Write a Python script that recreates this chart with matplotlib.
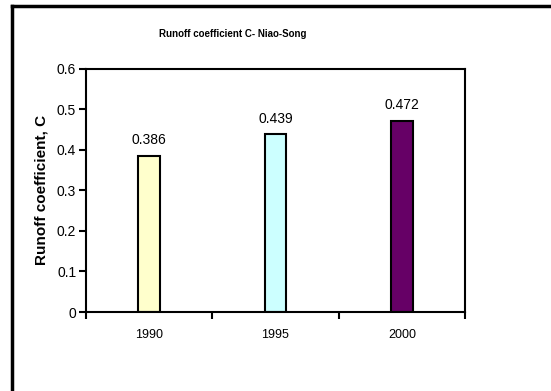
import matplotlib
matplotlib.use("Agg")
import matplotlib.pyplot as plt
from matplotlib.lines import Line2D
import numpy as np

# === DATA ====================================================================
years = ["1990", "1995", "2000"]
runoff_c = [0.386, 0.439, 0.472]
bar_colors = ["#FFFFCC", "#CCFFFF", "#660066"]
y_ticks = [0, 0.1, 0.2, 0.3, 0.4, 0.5, 0.6]
y_labels = ["0", "0.1", "0.2", "0.3", "0.4", "0.5", "0.6"]

plt.rcParams["font.family"] = ["Liberation Sans", "DejaVu Sans"]

fig = plt.figure(figsize=(5.51, 3.91), dpi=100)
ax = fig.add_axes([0.156, 0.202, 0.688, 0.622])

x = np.arange(len(years))
bars = ax.bar(x, runoff_c, width=0.17, color=bar_colors,
              edgecolor="black", linewidth=1.5)

for b, v in zip(bars, runoff_c):
    ax.annotate(f"{v:.3f}", (b.get_x() + b.get_width() / 2, v),
                xytext=(0, 6), textcoords="offset points",
                ha="center", va="bottom", fontsize=10)

ax.set_xlim(-0.5, 2.5)
ax.set_ylim(0, 0.6)
ax.set_yticks(y_ticks)
ax.set_yticklabels(y_labels, fontsize=10)
ax.set_xticks(x)
ax.set_xticklabels(years, fontsize=9)
ax.set_xticks([-0.5, 0.5, 1.5, 2.5], minor=True)
ax.tick_params(axis="x", which="major", length=0, pad=12)
ax.tick_params(axis="x", which="minor", direction="out", length=5, width=1.5)
ax.tick_params(axis="y", direction="out", length=5, width=1.5, pad=2)
for s in ax.spines.values():
    s.set_linewidth(1.5)

ax.set_ylabel("Runoff coefficient, C", fontsize=11, fontweight="bold", labelpad=6)
fig.text(0.423, 0.913, "Runoff coefficient C- Niao-Song", fontsize=7,
         fontweight="bold", ha="center", va="center")

# outer frame (only top and left edges visible)
fig.add_artist(Line2D([11.5 / 551, 1], [1 - 5.5 / 391, 1 - 5.5 / 391],
                      transform=fig.transFigure, color="black", lw=2.5))
fig.add_artist(Line2D([11.5 / 551, 11.5 / 551], [0, 1 - 5.5 / 391],
                      transform=fig.transFigure, color="black", lw=2.5))

fig.savefig("out.png", dpi=100)
